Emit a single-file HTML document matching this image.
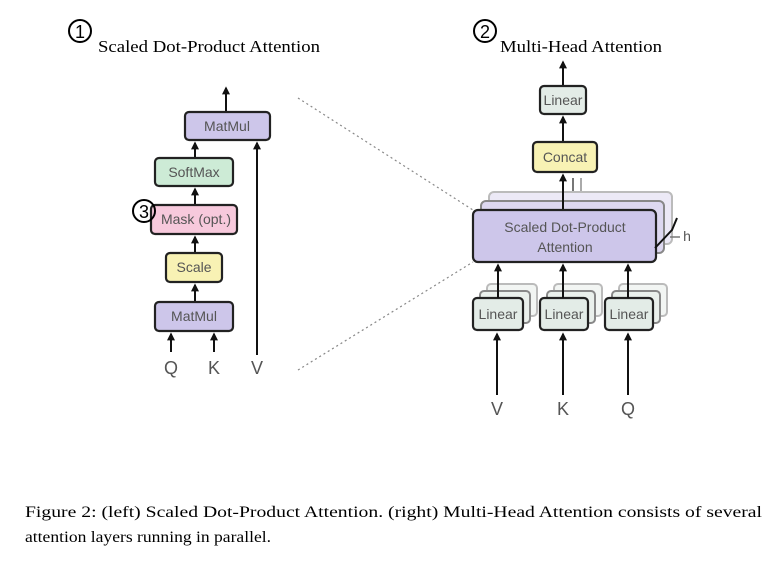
<!DOCTYPE html>
<html><head><meta charset="utf-8"><style>
html,body{margin:0;padding:0;background:#fff;width:778px;height:574px;overflow:hidden}
svg{display:block}
.s{font-family:"Liberation Sans",sans-serif;font-size:14px;fill:#555;text-anchor:middle}
.L{font-family:"Liberation Sans",sans-serif;font-size:18px;fill:#555;text-anchor:middle}
.t{font-family:"Liberation Serif",serif;fill:#000}
.b{stroke:#222;stroke-width:2.2}
.a{stroke:#111;stroke-width:2;fill:none}
</style></head><body>
<svg width="778" height="574" viewBox="0 0 778 574">
<defs>
<marker id="m" viewBox="0 0 10 10" refX="8" refY="5" markerWidth="4" markerHeight="4" orient="auto"><path d="M0,0L10,5L0,10z" fill="#111"/></marker>
</defs>
<circle cx="80" cy="31" r="11" fill="none" stroke="#000" stroke-width="2"/>
<text x="80" y="38" text-anchor="middle" font-family="Liberation Sans" font-size="18">1</text>
<text class="t" x="98" y="52" font-size="17" textLength="222" lengthAdjust="spacingAndGlyphs">Scaled Dot-Product Attention</text>
<circle cx="485" cy="31" r="11" fill="none" stroke="#000" stroke-width="2"/>
<text x="485" y="38" text-anchor="middle" font-family="Liberation Sans" font-size="18">2</text>
<text class="t" x="500" y="52" font-size="17" textLength="162" lengthAdjust="spacingAndGlyphs">Multi-Head Attention</text>

<line class="a" x1="226" y1="112" x2="226" y2="88" marker-end="url(#m)"/>
<rect class="b" x="185" y="112" width="85" height="28" rx="4" fill="#cdc6ea"/>
<text class="s" x="227" y="131">MatMul</text>
<line class="a" x1="195" y1="158" x2="195" y2="143" marker-end="url(#m)"/>
<rect class="b" x="155" y="158" width="78" height="28" rx="4" fill="#cdebd6"/>
<text class="s" x="194" y="177">SoftMax</text>
<line class="a" x1="195" y1="205" x2="195" y2="189" marker-end="url(#m)"/>
<rect class="b" x="151" y="205" width="86" height="29" rx="4" fill="#f7c9dc"/>
<text class="s" x="196" y="224">Mask (opt.)</text>
<circle cx="144" cy="211" r="11" fill="none" stroke="#000" stroke-width="2"/>
<text x="144" y="218" text-anchor="middle" font-family="Liberation Sans" font-size="18">3</text>
<line class="a" x1="195" y1="253" x2="195" y2="237" marker-end="url(#m)"/>
<rect class="b" x="166" y="253" width="56" height="29" rx="4" fill="#f8f2b4"/>
<text class="s" x="194" y="272">Scale</text>
<line class="a" x1="195" y1="302" x2="195" y2="285" marker-end="url(#m)"/>
<rect class="b" x="155" y="302" width="78" height="29" rx="4" fill="#cdc6ea"/>
<text class="s" x="194" y="321">MatMul</text>
<line class="a" x1="171" y1="352" x2="171" y2="334" marker-end="url(#m)"/>
<line class="a" x1="214" y1="352" x2="214" y2="334" marker-end="url(#m)"/>
<line class="a" x1="257" y1="355" x2="257" y2="143" marker-end="url(#m)"/>
<text class="L" x="171" y="374">Q</text>
<text class="L" x="214" y="374">K</text>
<text class="L" x="257" y="374">V</text>

<line x1="298" y1="98" x2="473" y2="210" stroke="#888" stroke-width="1.2" stroke-dasharray="2,3"/>
<line x1="298" y1="370" x2="473" y2="262" stroke="#888" stroke-width="1.2" stroke-dasharray="2,3"/>

<line class="a" x1="563" y1="86" x2="563" y2="62" marker-end="url(#m)"/>
<rect class="b" x="540" y="86" width="46" height="28" rx="4" fill="#e3ece7"/>
<text class="s" x="563" y="105">Linear</text>
<line class="a" x1="563" y1="142" x2="563" y2="117" marker-end="url(#m)"/>
<rect class="b" x="533" y="142" width="64" height="30" rx="4" fill="#f8f2b4"/>
<text class="s" x="565" y="162">Concat</text>
<line x1="573" y1="195" x2="573" y2="178" stroke="#777" stroke-width="2"/>
<line x1="581" y1="192" x2="581" y2="178" stroke="#aaa" stroke-width="2"/>
<rect x="489" y="192" width="183" height="52" rx="5" fill="#ece9f6" stroke="#bbb" stroke-width="2"/>
<rect x="481" y="201" width="183" height="52" rx="5" fill="#ddd8f0" stroke="#888" stroke-width="2"/>
<line class="a" x1="563" y1="210" x2="563" y2="175" marker-end="url(#m)"/>
<rect class="b" x="473" y="210" width="183" height="52" rx="5" fill="#cdc6ea"/>
<text class="s" x="565" y="232">Scaled Dot-Product</text>
<text class="s" x="565" y="252">Attention</text>
<path d="M677,218 L672,230 L655,248" stroke="#111" stroke-width="2" fill="none"/>
<line x1="670" y1="237" x2="680" y2="237" stroke="#777" stroke-width="1.5"/>
<text class="s" x="687" y="241">h</text>
<g>
<rect x="487" y="284" width="50" height="32" rx="4" fill="#f2f5f3" stroke="#bbb" stroke-width="2"/>
<rect x="480" y="291" width="50" height="32" rx="4" fill="#eaf0ec" stroke="#888" stroke-width="2"/>
<rect class="b" x="473" y="298" width="50" height="32" rx="4" fill="#e3ece7"/>
<text class="s" x="498" y="319">Linear</text>
<rect x="554" y="284" width="48" height="32" rx="4" fill="#f2f5f3" stroke="#bbb" stroke-width="2"/>
<rect x="547" y="291" width="48" height="32" rx="4" fill="#eaf0ec" stroke="#888" stroke-width="2"/>
<rect class="b" x="540" y="298" width="48" height="32" rx="4" fill="#e3ece7"/>
<text class="s" x="564" y="319">Linear</text>
<rect x="619" y="284" width="48" height="32" rx="4" fill="#f2f5f3" stroke="#bbb" stroke-width="2"/>
<rect x="612" y="291" width="48" height="32" rx="4" fill="#eaf0ec" stroke="#888" stroke-width="2"/>
<rect class="b" x="605" y="298" width="48" height="32" rx="4" fill="#e3ece7"/>
<text class="s" x="629" y="319">Linear</text>
</g>
<line class="a" x1="498" y1="298" x2="498" y2="265" marker-end="url(#m)"/>
<line class="a" x1="563" y1="298" x2="563" y2="265" marker-end="url(#m)"/>
<line class="a" x1="628" y1="298" x2="628" y2="265" marker-end="url(#m)"/>
<line class="a" x1="497" y1="395" x2="497" y2="334" marker-end="url(#m)"/>
<line class="a" x1="563" y1="395" x2="563" y2="334" marker-end="url(#m)"/>
<line class="a" x1="628" y1="395" x2="628" y2="334" marker-end="url(#m)"/>
<text class="L" x="497" y="415">V</text>
<text class="L" x="563" y="415">K</text>
<text class="L" x="628" y="415">Q</text>

<text class="t" x="25" y="517" font-size="16" textLength="737" lengthAdjust="spacingAndGlyphs">Figure 2: (left) Scaled Dot-Product Attention. (right) Multi-Head Attention consists of several</text>
<text class="t" x="25" y="542" font-size="16" textLength="246" lengthAdjust="spacingAndGlyphs">attention layers running in parallel.</text>
</svg>
</body></html>
